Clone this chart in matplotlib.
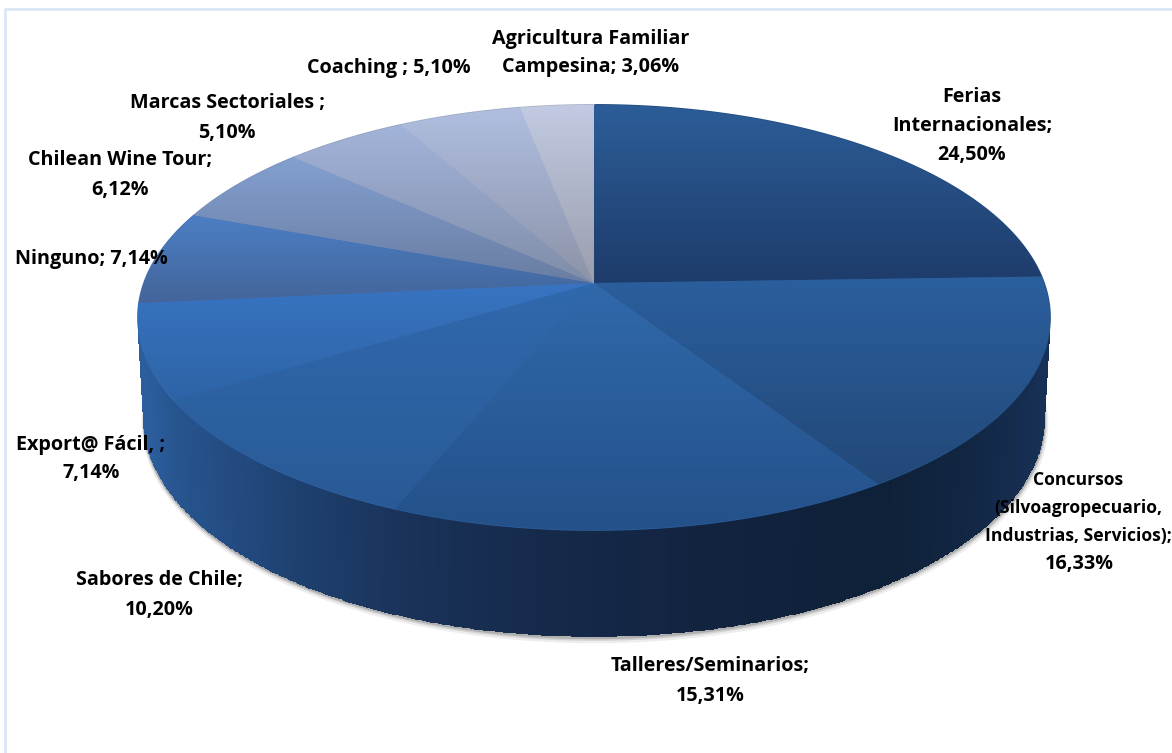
import numpy as np
import matplotlib
matplotlib.use("Agg")
import matplotlib.pyplot as plt
from matplotlib.colors import LinearSegmentedColormap, to_rgb
from matplotlib.patches import PathPatch
from matplotlib.path import Path

plt.rcParams['font.family'] = ['Open Sans', 'DejaVu Sans']

# data, clockwise from 12 o'clock
categories = ["Ferias Internacionales", "Concursos", "Talleres/Seminarios", "Sabores de Chile",
              "Export@ Fácil", "Ninguno", "Chilean Wine Tour", "Marcas Sectoriales",
              "Coaching", "Agricultura Familiar Campesina"]
shares = [24.50, 16.33, 15.31, 10.20, 7.14, 7.14, 6.12, 5.10, 5.10, 3.06]
labels = ["Ferias\nInternacionales;\n24,50%",
          "Concursos\n(Silvoagropecuario,\nIndustrias, Servicios);",
          "Talleres/Seminarios;\n15,31%",
          "Sabores de Chile;\n10,20%",
          "Export@ Fácil, ;\n7,14%",
          "Ninguno; 7,14%",
          "Chilean Wine Tour;\n6,12%",
          "Marcas Sectoriales ;\n5,10%",
          "Coaching ; 5,10%",
          "Agricultura Familiar\nCampesina; 3,06%"]

# look of each slice: gradient on the top face, top to bottom
face_top = ['#2c5d98', '#2b5f9d', '#3069ab', '#3069ad', '#3874c2', '#4c7ec4', '#83a0d0', '#a3b4da', '#b0bee0', '#c2cbe3']
face_bot = ['#1e3c6b', '#224878', '#245189', '#2a5a96', '#2e64a6', '#43659a', '#6a7da2', '#808da8', '#8c93a8', '#9a9dab']
label_pos = [(972, 126), (1078, 508), (710, 681), (159, 595), (91, 459),
             (91, 259), (120, 175), (227, 118), (389, 68), (591, 53)]
label_size = [14.2, 12.6, 14.2, 14.2, 14.2, 14.2, 14.2, 14.2, 14.2, 14.2]
label_spacing = [1.62, 1.68, 1.62, 1.62, 1.5, 1.62, 1.62, 1.62, 1.55, 1.55]

K = 0.162


def project(theta, apex_y, rx, ry, cx=594):
    # perspective view of a circle lying flat
    u, v = np.cos(theta), np.sin(theta)
    w = 1 + K * v
    return cx + rx * u / w, apex_y - ry * v / w


def top_rim(theta):
    return project(theta, 283, 450, 207)


def bottom_rim(theta):
    return project(theta, 385, 444, 211)


fig = plt.figure(figsize=(11.72, 7.53), dpi=100)
ax = fig.add_axes([0, 0, 1, 1])
ax.set_xlim(0, 1172)
ax.set_ylim(753, 0)
ax.axis('off')

# frame: only top and left show in the picture
ax.plot([5, 5, 1172], [753, 9, 9], color='#dbe7f4', lw=2, zorder=1)

bounds = np.cumsum([0] + shares) / sum(shares)
angles = np.pi / 2 - 2 * np.pi * bounds

# soft shadow under the disc
rim = np.linspace(-np.pi * 1.02, 0.02 * np.pi, 300)
sx, sy = bottom_rim(rim)
for off, alpha, lw in [(3, 0.10, 5), (2, 0.18, 3), (1, 0.28, 2)]:
    ax.plot(sx + off * 0.3, sy + off, color='#555555', alpha=alpha, lw=lw, solid_capstyle='round')

# side wall, shaded along x
side_cmap = LinearSegmentedColormap.from_list(
    'side', [(0.0, '#2c5e9e'), (0.03, '#27558f'), (0.1, '#234a80'), (0.17, '#1e406f'), (0.28, '#1a335a'),
             (0.45, '#15294a'), (0.62, '#12233f'), (0.82, '#0f2138'), (0.92, '#122744'), (1.0, '#173056')])
t = np.linspace(-np.pi * 1.01, 0.01 * np.pi, 400)
tx, ty = top_rim(t)
bx, by = bottom_rim(t)
X = np.vstack([tx, bx])
Y = np.vstack([ty, by])
C = (0.5 * (tx[:-1] + tx[1:]) - 144) / 906
ax.pcolormesh(X, Y, C[None, :], cmap=side_cmap, vmin=0, vmax=1, shading='flat',
              rasterized=True, antialiased=False, zorder=2)

# top face, one clipped gradient per slice
for i in range(len(shares)):
    th = np.linspace(angles[i], angles[i + 1], 120)
    rx_, ry_ = top_rim(th)
    xs = np.r_[594, rx_, 594]
    ys = np.r_[283, ry_, 283]
    path = Path(np.c_[xs, ys])
    # solid underlay hides the hairline seams between slices
    mid = 0.5 * (np.array(to_rgb(face_top[i])) + np.array(to_rgb(face_bot[i])))
    ax.add_patch(PathPatch(path, fc=mid, ec=mid, lw=1.2, zorder=3))
for i in range(len(shares)):
    th = np.linspace(angles[i], angles[i + 1], 120)
    rx_, ry_ = top_rim(th)
    xs = np.r_[594, rx_, 594]
    ys = np.r_[283, ry_, 283]
    poly = PathPatch(Path(np.c_[xs, ys]), fc='none', ec='none', transform=ax.transData)
    ax.add_patch(poly)
    cmap = LinearSegmentedColormap.from_list('f', [to_rgb(face_top[i]), to_rgb(face_bot[i])])
    grad = np.linspace(0, 1, 256)[:, None]
    im = ax.imshow(grad, cmap=cmap, aspect='auto', zorder=4, interpolation='bilinear',
                   extent=(xs.min(), xs.max(), ys.max(), ys.min()))
    im.set_clip_path(poly)

ax.set_xlim(0, 1172)
ax.set_ylim(753, 0)

for txt, (x, y), size, sp in zip(labels, label_pos, label_size, label_spacing):
    ax.text(x, y, txt, ha='center', va='center', fontsize=size, fontweight='bold',
            color='black', linespacing=sp, zorder=5)
ax.text(1079, 564, "16,33%", ha='center', va='center', fontsize=14.2, fontweight='bold', zorder=5)

fig.savefig('out.png', dpi=100)
